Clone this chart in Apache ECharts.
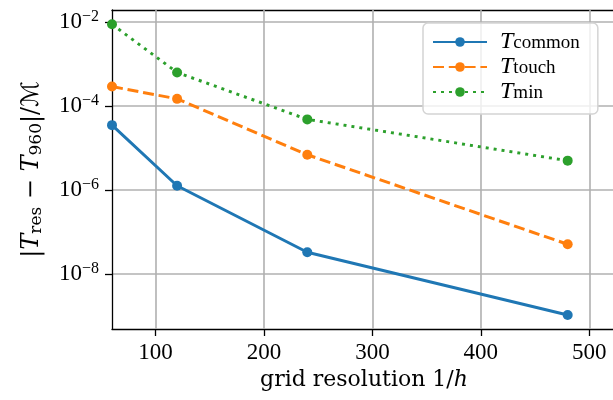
<!DOCTYPE html>
<html>
<head>
<meta charset="utf-8">
<script src="https://cdn.jsdelivr.net/npm/echarts@6/dist/echarts.min.js"></script>
<style>
  html, body { margin: 0; padding: 0; background: #fff; overflow: hidden; }
  /* wider than the window: the original figure is cropped on the right */
  #chart { width: 640px; height: 400px; }
</style>
</head>
<body>
<div id="chart"></div>
<script>
// grid resolution 1/h and relative errors
const resolutions = [60, 120, 240, 480];
const errCommon = [3.5e-5, 1.26e-6, 3.3e-8, 1.06e-9];
const errTouch = [2.9e-4, 1.48e-4, 6.9e-6, 5.1e-8];
const errMin = [8.8e-3, 6.3e-4, 4.8e-5, 5.0e-6];
const seriesSubs = ["common", "touch", "min"];
const xTicks = [100, 200, 300, 400, 500];
const yTicks = [1e-8, 1e-6, 1e-4, 1e-2];

const FONT = "Liberation Serif";
const NAME_FONT = "DejaVu Serif";
const colors = ["#1f77b4", "#ff7f0e", "#2ca02c"];
const dashes = ["solid", [11, 4.8], [3, 5]];
const allErrs = [errCommon, errTouch, errMin];

const chart = echarts.init(document.getElementById("chart"));

chart.setOption({
  animation: false,
  textStyle: { fontFamily: FONT },
  grid: { left: 112, top: 10, right: 17, bottom: 71, show: false, outerBoundsMode: "none" },
  legend: {
    left: 423, top: 23,
    orient: "vertical",
    itemWidth: 54, itemHeight: 12, itemGap: 1,
    padding: [7, 18, 10, 9],
    backgroundColor: "rgba(255,255,255,0.8)",
    borderColor: "#d4d4d4", borderWidth: 1.5, borderRadius: 5,
    data: seriesSubs.map(s => "T_" + s),
    formatter: name => "{i|T}{s|" + name.slice(2) + "}",
    textStyle: {
      rich: {
        i: { fontFamily: FONT, fontStyle: "italic", fontSize: 24, lineHeight: 22, padding: [0, 0, 0, 8], color: "#000" },
        s: { fontFamily: FONT, fontSize: 19, lineHeight: 12, verticalAlign: "bottom", color: "#000" }
      }
    }
  },
  xAxis: [{
    type: "value",
    min: 60, max: 531,
    name: "grid resolution 1/{i|h}",
    nameLocation: "middle", nameGap: 38,
    nameTextStyle: {
      fontFamily: NAME_FONT, fontSize: 22, color: "#000",
      padding: [0, 7, 0, 0],
      rich: { i: { fontFamily: NAME_FONT, fontStyle: "italic", fontSize: 22, color: "#000" } }
    },
    axisLine: { show: true, onZero: false, lineStyle: { color: "#000", width: 1.3 } },
    axisTick: { show: true, inside: false, length: 7, customValues: xTicks, lineStyle: { color: "#000", width: 1.3 } },
    axisLabel: { customValues: xTicks, margin: 12, fontFamily: FONT, fontSize: 23, color: "#000" },
    splitLine: { show: false }
  }, {
    // top frame; its long inward ticks are the vertical grid lines
    type: "value", position: "top",
    min: 60, max: 531,
    axisLine: { show: true, onZero: false, lineStyle: { color: "#000", width: 1.3 } },
    axisTick: { show: true, inside: true, length: 319, customValues: xTicks, lineStyle: { color: "#b0b0b0", width: 1.6 } },
    axisLabel: { show: false },
    splitLine: { show: false }
  }],
  yAxis: {
    type: "log",
    logBase: 10,
    min: 4.9e-10, max: 1.93e-2,
    name: "|{i|T}{s|res} − {i|T}{s|960}|/{m|ℳ}",
    nameLocation: "middle", nameGap: 67, nameRotate: 90,
    nameTextStyle: {
      fontFamily: NAME_FONT, fontSize: 24, color: "#000", lineHeight: 26,
      rich: {
        i: { fontFamily: NAME_FONT, fontStyle: "italic", fontSize: 24, lineHeight: 26, color: "#000" },
        s: { fontFamily: NAME_FONT, fontSize: 17, lineHeight: 14, verticalAlign: "bottom", color: "#000" },
        m: { fontFamily: "DejaVu Sans", fontSize: 24, lineHeight: 26, color: "#000" }
      }
    },
    axisLine: { show: true, lineStyle: { color: "#000", width: 1.3 } },
    axisTick: { show: true, inside: false, length: 7, customValues: yTicks, lineStyle: { color: "#000", width: 1.3 } },
    axisLabel: {
      customValues: yTicks, margin: 13,
      formatter: v => "{b|10}{e|−" + Math.round(-Math.log10(v)) + "}",
      rich: {
        b: { fontFamily: FONT, fontSize: 23, lineHeight: 26, color: "#000" },
        e: { fontFamily: FONT, fontSize: 16, lineHeight: 10, verticalAlign: "top", color: "#000" }
      }
    },
    splitLine: { show: true, lineStyle: { color: "#b0b0b0", width: 1.6 } },
    minorTick: { show: false }
  },
  series: allErrs.map((errs, k) => ({
    name: "T_" + seriesSubs[k],
    type: "line",
    data: resolutions.map((x, i) => [x, errs[i]]),
    color: colors[k],
    symbol: "circle",
    symbolSize: 10,
    clip: false,
    lineStyle: { width: 3, type: dashes[k], cap: "butt" },
    itemStyle: { color: colors[k] },
    z: 3 + k
  }))
});

window.addEventListener("resize", () => chart.resize());
</script>
</body>
</html>
